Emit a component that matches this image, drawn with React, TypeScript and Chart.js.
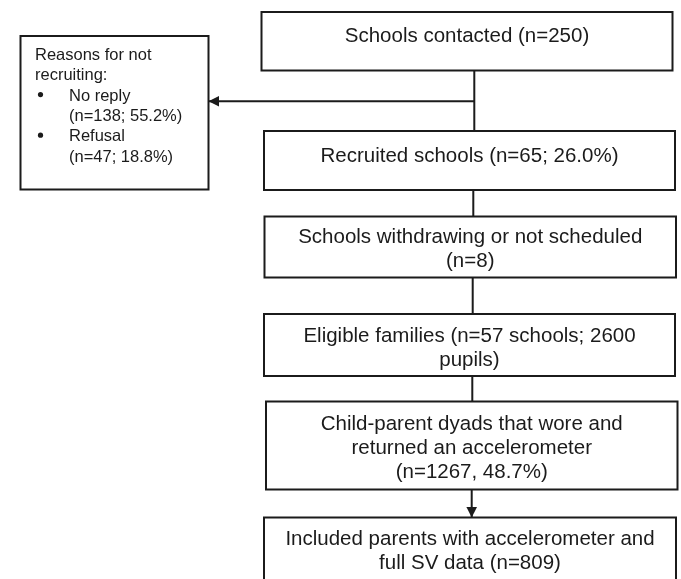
import React, { useEffect, useRef } from "react";
import { Chart, registerables } from "chart.js";

Chart.register(...registerables);

// ---- Flowchart content ----
const boxLabels: string[][] = [
  ["Schools contacted (n=250)"],
  ["Recruited schools (n=65; 26.0%)"],
  ["Schools withdrawing or not scheduled", "(n=8)"],
  ["Eligible families (n=57 schools; 2600", "pupils)"],
  ["Child-parent dyads that wore and", "returned an accelerometer", "(n=1267, 48.7%)"],
  ["Included parents with accelerometer and", "full SV data (n=809)"],
];
const boxLeft = [261.5, 264, 264.5, 264, 266, 264];
const boxRight = [672.5, 675, 676, 675, 677.5, 676];
const boxTop = [12, 131, 216.5, 314, 401.5, 517.5];
const boxBottom = [70.5, 190, 277.5, 376, 489.5, 600];
const boxFirstBaseline = [42, 161.5, 243, 342, 430, 545];

const sideLines = ["Reasons for not", "recruiting:", "No reply", "(n=138; 55.2%)", "Refusal", "(n=47; 18.8%)"];
const sideBullet = [false, false, true, false, true, false];
const sideIndent = [false, false, true, true, true, true];
const sideBox = [20.5, 36, 208.5, 189.5]; // left, top, right, bottom
const sideFirstBaseline = 60;

// connectors: [x1, y1, x2, y2]
const connectorFrom: number[][] = [
  [474.3, 70.5],
  [474.3, 101.3],
  [473.3, 190],
  [472.7, 277.5],
  [472.3, 376],
  [471.7, 489.5],
];
const connectorTo: number[][] = [
  [474.3, 131],
  [208.5, 101.3],
  [473.3, 216.5],
  [472.7, 314],
  [472.3, 401.5],
  [471.7, 517.5],
];
const connectorArrow = [false, true, false, false, false, true];

const INK = "#1b1b1b";
const FONT = '"Liberation Sans", Arial, Helvetica, sans-serif';

function rectPoints(l: number, t: number, r: number, b: number) {
  return [
    { x: l, y: t },
    { x: r, y: t },
    { x: r, y: b },
    { x: l, y: b },
    { x: l, y: t },
  ];
}

const flowPlugin = {
  id: "flowText",
  afterDatasetsDraw(chart: any) {
    const { ctx, scales } = chart;
    const xs = scales.x;
    const ys = scales.y;
    ctx.save();
    ctx.fillStyle = INK;

    // arrowheads
    connectorArrow.forEach((has, i) => {
      if (!has) return;
      const x1 = xs.getPixelForValue(connectorFrom[i][0]);
      const y1 = ys.getPixelForValue(connectorFrom[i][1]);
      const x2 = xs.getPixelForValue(connectorTo[i][0]);
      const y2 = ys.getPixelForValue(connectorTo[i][1]);
      const ang = Math.atan2(y2 - y1, x2 - x1);
      const len = 10.5;
      const half = 5.3;
      const bx = x2 - Math.cos(ang) * len;
      const by = y2 - Math.sin(ang) * len;
      ctx.beginPath();
      ctx.moveTo(x2, y2);
      ctx.lineTo(bx - Math.sin(ang) * half, by + Math.cos(ang) * half);
      ctx.lineTo(bx + Math.sin(ang) * half, by - Math.cos(ang) * half);
      ctx.closePath();
      ctx.fill();
    });

    // box texts
    ctx.font = `20.5px ${FONT}`;
    ctx.textAlign = "center";
    ctx.textBaseline = "alphabetic";
    boxLabels.forEach((lines, i) => {
      const cx = xs.getPixelForValue((boxLeft[i] + boxRight[i]) / 2);
      lines.forEach((line, j) => {
        const yy = ys.getPixelForValue(boxFirstBaseline[i] + j * 24);
        ctx.fillText(line, cx, yy);
      });
    });

    // side box text
    ctx.font = `16.5px ${FONT}`;
    ctx.textAlign = "left";
    sideLines.forEach((line, j) => {
      const base = sideFirstBaseline + j * 20.3;
      const tx = xs.getPixelForValue(sideIndent[j] ? 69 : 35);
      ctx.fillText(line, tx, ys.getPixelForValue(base));
      if (sideBullet[j]) {
        ctx.beginPath();
        ctx.arc(xs.getPixelForValue(40.5), ys.getPixelForValue(base - 6), 2.6, 0, Math.PI * 2);
        ctx.fill();
      }
    });
    ctx.restore();
  },
};

export default function App() {
  const canvasRef = useRef<HTMLCanvasElement | null>(null);

  useEffect(() => {
    if (!canvasRef.current) return;
    const lineStyle = {
      showLine: true,
      borderColor: INK,
      borderWidth: 2,
      pointRadius: 0,
      pointHoverRadius: 0,
      fill: false,
      tension: 0,
      borderCapStyle: "square" as const,
      borderJoinStyle: "miter" as const,
    };
    const datasets: any[] = [];
    boxLabels.forEach((_, i) => {
      datasets.push({
        ...lineStyle,
        label: `box${i}`,
        data: rectPoints(boxLeft[i], boxTop[i], boxRight[i], boxBottom[i]),
      });
    });
    datasets.push({
      ...lineStyle,
      label: "side",
      data: rectPoints(sideBox[0], sideBox[1], sideBox[2], sideBox[3]),
    });
    connectorFrom.forEach((from, i) => {
      datasets.push({
        ...lineStyle,
        borderCapStyle: "butt",
        label: `link${i}`,
        data: [
          { x: from[0], y: from[1] },
          { x: connectorTo[i][0], y: connectorTo[i][1] },
        ],
      });
    });

    const chart = new Chart(canvasRef.current, {
      type: "scatter",
      data: { datasets },
      options: {
        animation: false,
        responsive: false,
        events: [],
        layout: { padding: 0 },
        plugins: {
          legend: { display: false },
          tooltip: { enabled: false },
        },
        scales: {
          x: { type: "linear", min: 0, max: 681, display: false },
          y: { type: "linear", min: 0, max: 579, reverse: true, display: false },
        },
      },
      plugins: [flowPlugin],
    });
    return () => chart.destroy();
  }, []);

  return (
    <div
      style={{
        position: "fixed",
        left: 0,
        top: 0,
        width: 681,
        height: 579,
        background: "#ffffff",
      }}
    >
      <canvas ref={canvasRef} width={681} height={579} style={{ display: "block" }} />
    </div>
  );
}
